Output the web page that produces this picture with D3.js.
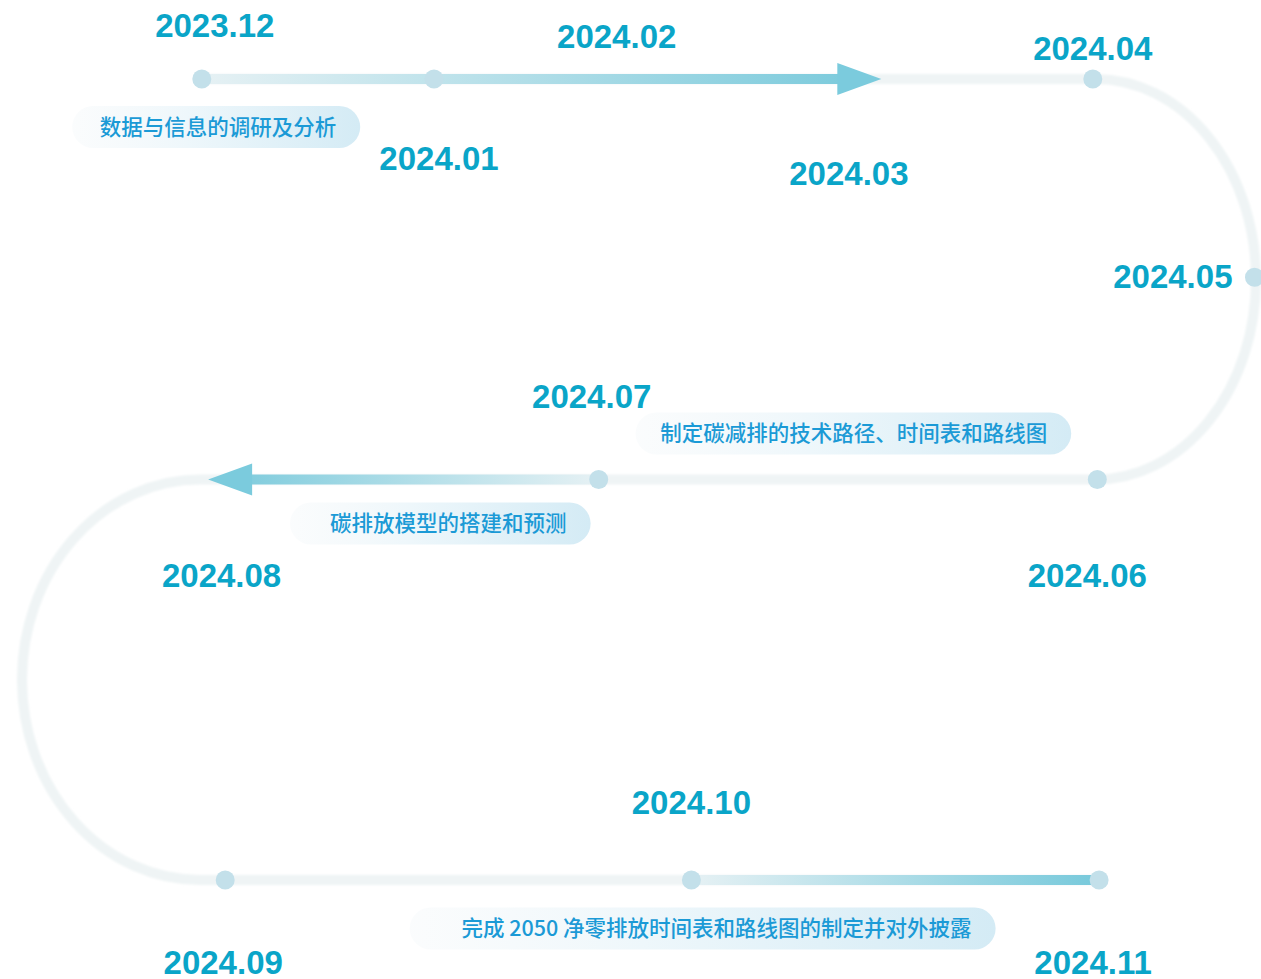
<!DOCTYPE html>
<html>
<head>
<meta charset="utf-8">
<script src="https://cdn.jsdelivr.net/npm/d3@7"></script>
<style>
  html, body { margin: 0; background: #fff; overflow: hidden; }
</style>
</head>
<body>
<div id="chart"></div>
<script>
// ---- data ----
const months = ["2023.12", "2024.01", "2024.02", "2024.03", "2024.04", "2024.05",
                "2024.06", "2024.07", "2024.08", "2024.09", "2024.10", "2024.11"];
const lane = [0, 0, 0, 0, 0, "turn", 1, 1, 1, 2, 2, 2];
// progress along the lane, 0 = left end, 100 = right end
const progress = [0.2, 26, 46.3, 72.1, 99.2, null, 99.7, 44.3, 2.4, 2.8, 54.6, 99.9];
const hasDot = [true, true, false, false, true, true, true, true, false, true, true, true];

const tasks = ["数据与信息的调研及分析",
               "制定碳减排的技术路径、时间表和路线图",
               "碳排放模型的搭建和预测",
               "完成 2050 净零排放时间表和路线图的制定并对外披露"];
const taskLane = [0, 1, 1, 2];
const taskFrom = [-14.2, 48.4, 10, 23.3];
const taskTo = [17.8, 96.8, 43.4, 88.4];

// highlighted stretch on each lane
const segFrom = [0.2, 44.3, 54.6];
const segTo = [75.7, 0.9, 99.9];
const segArrow = [true, true, false];

// ---- layout ----
const width = 1261, height = 979;
const labelDx = [13, 5, 0, 0, 0, 0, -10, -7, 0, -2, 0, -6];
const labelDy = [-42, 91, -31, 106, -19, 11, 107, -72, 107, 94, -66, 94];
const taskDy = [48, -46, 44, 48.5];

const x = d3.scaleLinear().domain([0, 100]).range([200, 1100]);
const y = d3.scalePoint().domain([0, 1, 2]).range([79, 880]);
const turnX = x(99.5);

const rightR = { rx: 160.5, ry: (y(1) - y(0)) / 2 };
const leftR = { rx: 178, ry: (y(2) - y(1)) / 2 };

const svg = d3.select("#chart").append("svg")
  .attr("width", width)
  .attr("height", height);

const defs = svg.append("defs");
defs.append("filter").attr("id", "soft")
  .attr("x", "-5%").attr("y", "-5%").attr("width", "110%").attr("height", "110%")
  .append("feGaussianBlur").attr("stdDeviation", 0.9);

const pillGrad = defs.append("linearGradient").attr("id", "pill");
pillGrad.append("stop").attr("offset", "0%").attr("stop-color", "#f4f8fa").attr("stop-opacity", 0.4);
pillGrad.append("stop").attr("offset", "40%").attr("stop-color", "#eef7fb");
pillGrad.append("stop").attr("offset", "100%").attr("stop-color", "#d4ebf5");

// base serpentine track
const trackPath = [
  "M", x(0) - 5, y(0),
  "H", turnX,
  "A", rightR.rx, rightR.ry, 0, 0, 1, turnX, y(1),
  "H", x(0),
  "A", leftR.rx, leftR.ry, 0, 0, 0, x(0), y(2),
  "H", x(100)
].join(" ");

svg.append("path")
  .attr("d", trackPath)
  .attr("fill", "none")
  .attr("stroke", "#eff4f5")
  .attr("stroke-width", 10)
  .attr("filter", "url(#soft)");

// faint end ticks
svg.append("line")
  .attr("x1", x(0) - 3).attr("x2", x(0) - 3)
  .attr("y1", y(0) - 24).attr("y2", y(0) + 24)
  .attr("stroke", "#f1f4f4").attr("stroke-width", 6).attr("filter", "url(#soft)");
svg.append("line")
  .attr("x1", x(99.4)).attr("x2", x(99.4))
  .attr("y1", y(2) - 25).attr("y2", y(2) + 25)
  .attr("stroke", "#f1f4f4").attr("stroke-width", 6).attr("filter", "url(#soft)");

// highlighted segments with arrows
const headLen = 44, headHalf = 16;
segFrom.forEach((f, i) => {
  const x1 = x(f), x2 = x(segTo[i]);
  const dir = x2 > x1 ? 1 : -1;
  const yy = y(i);
  const g = defs.append("linearGradient")
    .attr("id", "seg" + i)
    .attr("gradientUnits", "userSpaceOnUse")
    .attr("x1", x1).attr("x2", x2).attr("y1", 0).attr("y2", 0);
  g.append("stop").attr("offset", "0%").attr("stop-color", "#e6f1f4");
  g.append("stop").attr("offset", "100%").attr("stop-color", "#77c9db");

  const lineEnd = segArrow[i] ? x2 - dir * headLen : x2;
  svg.append("line")
    .attr("x1", x1).attr("x2", lineEnd + dir)
    .attr("y1", yy).attr("y2", yy)
    .attr("stroke", "url(#seg" + i + ")")
    .attr("stroke-width", 10);
  if (segArrow[i]) {
    svg.append("path")
      .attr("d", d3.line()([[lineEnd, yy - headHalf], [x2, yy], [lineEnd, yy + headHalf]]) + "Z")
      .attr("fill", "#7bcbdd");
  }
});

// month positions
function pos(i) {
  if (lane[i] === "turn") return [turnX + rightR.rx - 1.5, (y(0) + y(1)) / 2 - 2];
  return [x(progress[i]), y(lane[i])];
}

svg.append("g").selectAll("circle")
  .data(months.filter((m, i) => hasDot[i]))
  .join("circle")
  .attr("cx", m => pos(months.indexOf(m))[0])
  .attr("cy", m => pos(months.indexOf(m))[1])
  .attr("r", 9.5)
  .attr("fill", "#c3e0ea");

svg.append("g").selectAll("text")
  .data(months)
  .join("text")
  .attr("x", (m, i) => pos(i)[0] + (lane[i] === "turn" ? -22 : labelDx[i]))
  .attr("y", (m, i) => pos(i)[1] + labelDy[i])
  .attr("text-anchor", (m, i) => lane[i] === "turn" ? "end" : "middle")
  .attr("font-family", "'Liberation Sans', Arial, sans-serif")
  .attr("font-weight", "bold")
  .attr("font-size", 33)
  .attr("fill", "#0aa5c8")
  .text(m => m);

// task pills
const pills = svg.append("g").selectAll("g")
  .data(tasks)
  .join("g");

pills.append("rect")
  .attr("x", (t, i) => x(taskFrom[i]))
  .attr("y", (t, i) => y(taskLane[i]) + taskDy[i] - 21)
  .attr("width", (t, i) => x(taskTo[i]) - x(taskFrom[i]))
  .attr("height", 42)
  .attr("rx", 21)
  .attr("fill", "url(#pill)");

pills.append("text")
  .attr("x", (t, i) => x(taskTo[i]) - 24)
  .attr("y", (t, i) => y(taskLane[i]) + taskDy[i])
  .attr("dy", "0.36em")
  .attr("text-anchor", "end")
  .attr("font-family", "'Noto Sans CJK SC', sans-serif")
  .attr("font-weight", 500)
  .attr("font-size", 21.5)
  .attr("fill", "#1b9ad6")
  .text(t => t);
</script>
</body>
</html>
